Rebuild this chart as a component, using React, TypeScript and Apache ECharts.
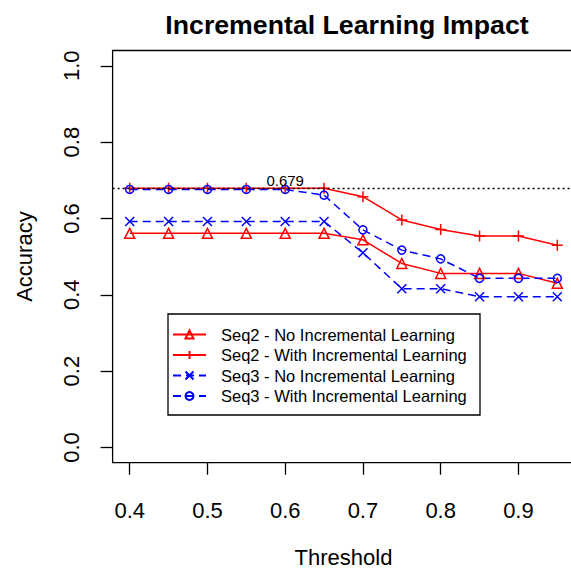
import React, { useEffect, useRef } from "react";
import * as echarts from "echarts";

const thresholds = [0.4, 0.45, 0.5, 0.55, 0.6, 0.65, 0.7, 0.75, 0.8, 0.85, 0.9, 0.95];
const seq2No = [0.561, 0.561, 0.561, 0.561, 0.561, 0.561, 0.544, 0.482, 0.456, 0.456, 0.456, 0.43];
const seq2With = [0.679, 0.679, 0.679, 0.679, 0.679, 0.679, 0.657, 0.596, 0.571, 0.554, 0.554, 0.53];
const seq3No = [0.592, 0.592, 0.592, 0.592, 0.592, 0.592, 0.51, 0.416, 0.416, 0.395, 0.395, 0.395];
const seq3With = [0.676, 0.676, 0.676, 0.676, 0.676, 0.661, 0.57, 0.517, 0.494, 0.443, 0.443, 0.443];

const seriesNames = [
  "Seq2 - No Incremental Learning",
  "Seq2 - With Incremental Learning",
  "Seq3 - No Incremental Learning",
  "Seq3 - With Incremental Learning",
];

const xTicks = [0.4, 0.5, 0.6, 0.7, 0.8, 0.9];
const yTicks = [0, 0.2, 0.4, 0.6, 0.8, 1.0];
const refValue = 0.679;
const refLabelX = 0.6;

const FONT = "'Liberation Sans', Arial, Helvetica, sans-serif";
const RED = "#FF0000";
const BLUE = "#0000FF";

export default function App() {
  const ref = useRef<HTMLDivElement>(null);
  useEffect(() => {
    const chart = echarts.init(ref.current!, null, { renderer: "svg" });
    const pairs = (ys: number[]) => thresholds.map((x, i) => [x, ys[i]]);
    const PLUS = "path://M0,5L10,5M5,0L5,10";
    const CROSS = "path://M0,0L10,10M10,0L0,10";
    const clear = "rgba(0,0,0,0)";

    chart.setOption({
      animation: false,
      backgroundColor: "#fff",
      textStyle: { fontFamily: FONT },
      grid: {
        left: 112.6,
        top: 50.5,
        width: 461.8,
        height: 412.2,
        outerBoundsMode: "none",
        containLabel: false,
        show: true,
        borderColor: "#000",
        borderWidth: 1.3,
        backgroundColor: clear,
      },
      xAxis: {
        type: "value",
        min: 0.378,
        max: 0.972,
        name: "Threshold",
        nameLocation: "middle",
        nameGap: 84,
        nameTextStyle: { fontSize: 22, color: "#000", fontFamily: FONT },
        axisLine: { show: false, onZero: false },
        splitLine: { show: false },
        axisTick: {
          show: true,
          customValues: xTicks,
          length: 12,
          lineStyle: { color: "#000", width: 1.3 },
        },
        axisLabel: {
          customValues: xTicks,
          margin: 37,
          fontSize: 22,
          color: "#000",
          fontFamily: FONT,
          formatter: (v: number) => v.toFixed(1),
        },
      },
      yAxis: {
        type: "value",
        min: -0.04,
        max: 1.04,
        name: "Accuracy",
        nameLocation: "middle",
        nameGap: 77,
        nameTextStyle: { fontSize: 22, color: "#000", fontFamily: FONT },
        axisLine: { show: false, onZero: false },
        splitLine: { show: false },
        axisTick: {
          show: true,
          customValues: yTicks,
          length: 12,
          lineStyle: { color: "#000", width: 1.3 },
        },
        axisLabel: {
          customValues: yTicks,
          margin: 30,
          rotate: 90,
          fontSize: 22,
          color: "#000",
          fontFamily: FONT,
          formatter: (v: number) => v.toFixed(1),
        },
      },
      legend: {
        orient: "vertical",
        left: 172,
        top: 326,
        padding: 0,
        itemWidth: 33,
        itemHeight: 10,
        itemGap: 3.5,
        textStyle: {
          fontSize: 16.5,
          color: "#000",
          fontFamily: FONT,
          padding: [0, 0, 0, 10],
        },
        data: seriesNames,
      },
      graphic: [
        {
          type: "rect",
          z: 3,
          shape: { x: 168, y: 314, width: 312, height: 101 },
          style: { fill: "#fff", stroke: "#000", lineWidth: 1.3 },
        },
        {
          type: "text",
          x: 347,
          y: 24.5,
          style: {
            text: "Incremental Learning Impact",
            fontSize: 26.7,
            fontWeight: "bold",
            fontFamily: FONT,
            fill: "#000",
            align: "center",
            verticalAlign: "middle",
          },
        },
      ],
      series: [
        {
          name: seriesNames[0],
          type: "line",
          data: pairs(seq2No),
          symbol: "triangle",
          symbolSize: 10,
          lineStyle: { color: RED, width: 1.5 },
          itemStyle: { color: clear, borderColor: RED, borderWidth: 1.5 },
        },
        {
          name: seriesNames[1],
          type: "line",
          data: pairs(seq2With),
          symbol: PLUS,
          symbolSize: 11,
          lineStyle: { color: RED, width: 1.5 },
          itemStyle: { color: clear, borderColor: RED, borderWidth: 1.5 },
          markLine: {
            silent: true,
            symbol: ["none", "none"],
            label: { show: false },
            lineStyle: { color: "#000", type: [2, 3], width: 1.3 },
            data: [{ yAxis: refValue }],
          },
          markPoint: {
            symbol: "circle",
            symbolSize: 0,
            label: {
              show: true,
              position: "top",
              distance: 0,
              formatter: refValue.toFixed(3),
              fontSize: 15,
              color: "#000",
              fontFamily: FONT,
            },
            data: [{ coord: [refLabelX, refValue], value: refValue }],
          },
        },
        {
          name: seriesNames[2],
          type: "line",
          data: pairs(seq3No),
          symbol: CROSS,
          symbolSize: 9,
          lineStyle: { color: BLUE, width: 1.5, type: [8, 5] },
          itemStyle: { color: clear, borderColor: BLUE, borderWidth: 1.5 },
        },
        {
          name: seriesNames[3],
          type: "line",
          data: pairs(seq3With),
          symbol: "circle",
          symbolSize: 8,
          lineStyle: { color: BLUE, width: 1.5, type: [8, 5] },
          itemStyle: { color: clear, borderColor: BLUE, borderWidth: 1.5 },
        },
      ],
    });
    return () => chart.dispose();
  }, []);
  return (
    <div
      ref={ref}
      style={{ position: "fixed", left: 0, top: 0, width: 571, height: 569 }}
    />
  );
}
